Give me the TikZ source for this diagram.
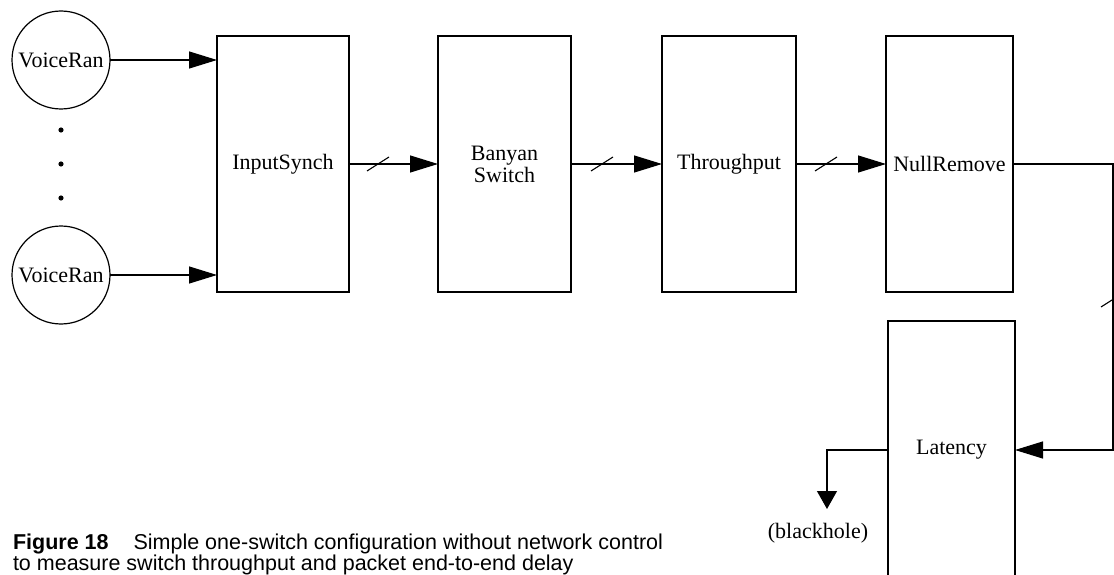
\documentclass[tikz,border=0pt]{standalone}
\usepackage{fontspec}
\setmainfont{Liberation Serif}
\newfontfamily\capfont{Liberation Sans}
\usetikzlibrary{arrows.meta,calc}

\begin{document}
\begin{tikzpicture}[x=1pt,y=-1pt,
  every node/.style={font=\fontsize{22}{22}\selectfont, inner sep=0pt, outer sep=0pt},
  line/.style={line width=1.2pt},
  flow/.style={line, -{Triangle[length=28pt,width=17pt]}},
  sink/.style={line, -{Triangle[length=18pt,width=20pt]}},
  tick/.style={line width=1.1pt},
  blk/.style={draw, line width=1.2pt, rectangle, minimum height=256pt, align=center},
  src/.style={draw, line width=1.2pt, circle, minimum size=98pt},
  capline/.style={anchor=base west, font=\capfont\fontsize{21.5}{24}\selectfont},
]
\useasboundingbox (0,0) rectangle (1114,575);
\clip (0,0) rectangle (1114,575);

% sources
\node[src] (v1) at (61,60)  {VoiceRan};
\node[src] (v2) at (61,275) {VoiceRan};
\foreach \yy in {130,164,198} \fill (61,\yy) circle (2.6pt);

% processing blocks
\node[blk, minimum width=132pt] (in)  at (283,164)   {InputSynch};
\node[blk, minimum width=133pt] (bs)  at (504.5,164) {Banyan\\Switch};
\node[blk, minimum width=134pt] (tp)  at (729,164)   {Throughput};
\node[blk, minimum width=127pt] (nr)  at (949.5,164) {NullRemove};
\node[blk, minimum width=127pt, minimum height=258pt] (lat) at (951.5,450) {Latency};
\node (bh) at (818,533) {(blackhole)};

% helper coordinates
\coordinate (rc) at (1113,0);
\coordinate (bhtip) at (827,509);

% connectors
\draw[flow] (v1.east) -- (v1.east -| in.west);
\draw[flow] (v2.east) -- (v2.east -| in.west);
\draw[flow] (in.east) -- (bs.west);
\draw[flow] (bs.east) -- (tp.west);
\draw[flow] (tp.east) -- (nr.west);
\draw[flow] (nr.east) -- (nr.east -| rc) |- (lat.east);
\draw[sink] (lat.west) -| (bhtip);

% bus ticks
\path (in.east) ++(29,0) coordinate (s1);
\path (bs.east) ++(31,0) coordinate (s2);
\path (tp.east) ++(30,0) coordinate (s3);
\coordinate (s4) at (1112,300);
\foreach \s in {s1,s2,s3,s4}
  \draw[tick] (\s) ++(-11,7) -- ++(22,-14);

% caption
\node[capline] (cap1) at (13,549) {\textbf{Figure 18}\hspace{25pt}Simple one-switch configuration without network control};
\node[capline] (cap2) at (13,570) {to measure switch throughput and packet end-to-end delay};
\end{tikzpicture}
\end{document}
